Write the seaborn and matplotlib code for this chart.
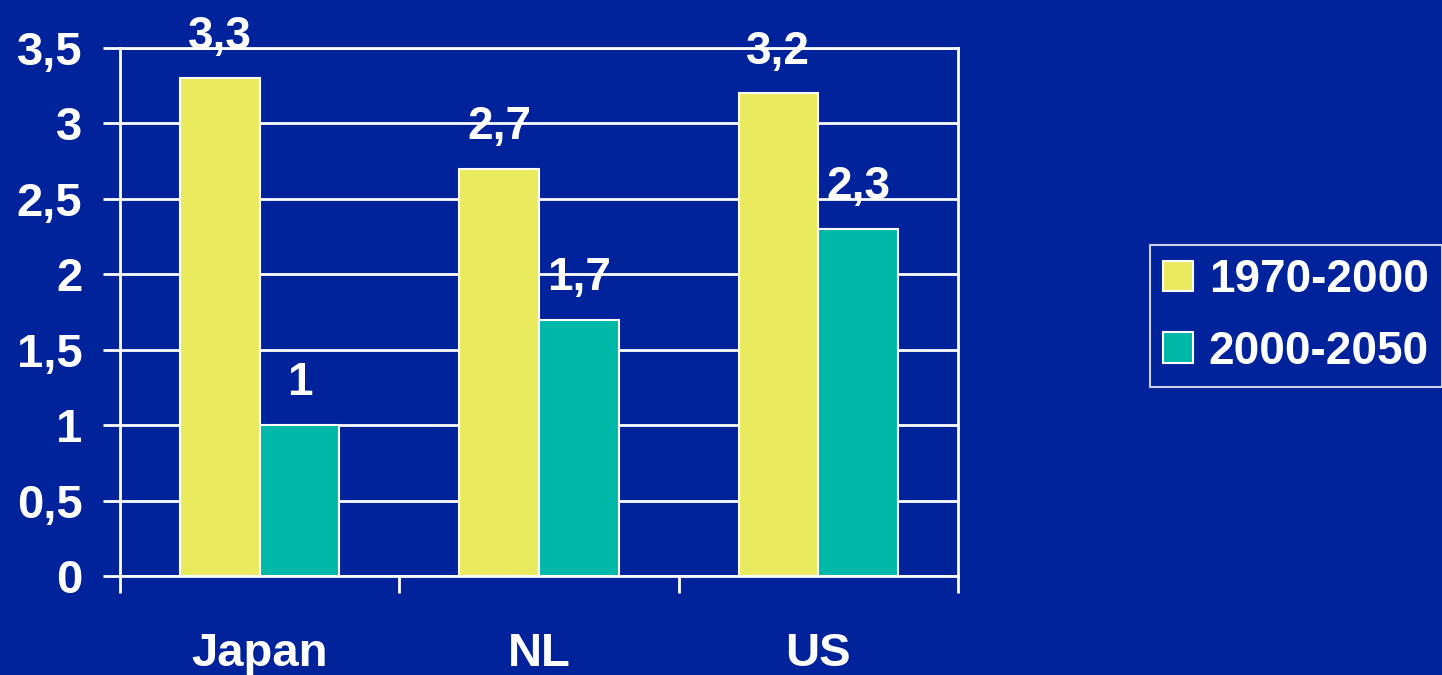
import matplotlib
matplotlib.use("Agg")
import matplotlib.pyplot as plt
import seaborn as sns
import pandas as pd
from matplotlib.ticker import FuncFormatter, FixedLocator, MultipleLocator

countries = ["Japan", "NL", "US"]
periods = ["1970-2000", "2000-2050"]
values_1970_2000 = [3.3, 2.7, 3.2]
values_2000_2050 = [1.0, 1.7, 2.3]

BG = "#00229A"
YELLOW = "#EAEA5E"
TEAL = "#00B8A8"

rows = []
for c, v1, v2 in zip(countries, values_1970_2000, values_2000_2050):
    rows.append({"country": c, "period": periods[0], "value": v1})
    rows.append({"country": c, "period": periods[1], "value": v2})
df = pd.DataFrame(rows)

sns.set_theme(style="white")
plt.rcParams["font.family"] = ["Liberation Sans", "DejaVu Sans"]
plt.rcParams["font.weight"] = "bold"

fig = plt.figure(figsize=(14.42, 6.75), dpi=100, facecolor=BG)
ax = fig.add_axes([120/1442, 1-576/675, (958-120)/1442, (576-48)/675])
ax.set_facecolor(BG)

sns.barplot(data=df, x="country", y="value", hue="period", order=countries,
            hue_order=periods, palette=[YELLOW, TEAL], saturation=1, width=0.571,
            edgecolor="white", linewidth=1.5, ax=ax, legend=True, zorder=3)

ax.set_ylim(0, 3.5)
ax.set_xlim(-0.5, 2.5)
ax.yaxis.set_major_locator(MultipleLocator(0.5))
ax.yaxis.set_major_formatter(FuncFormatter(lambda v, p: f"{v:g}".replace(".", ",")))
ax.grid(axis="y", color="white", linewidth=2, zorder=0)
ax.set_axisbelow(True)
for s in ax.spines.values():
    s.set_color("white")
    s.set_linewidth(2)

ax.tick_params(axis="y", colors="white", labelcolor="white", labelsize=34,
               length=12, width=2, direction="out", left=True, pad=15)
ax.tick_params(axis="x", which="major", length=0, labelsize=34, labelcolor="white", pad=40)
ax.xaxis.set_minor_locator(FixedLocator([-0.5, 0.5, 1.5, 2.5]))
ax.tick_params(axis="x", which="minor", bottom=True, length=12, width=2,
               color="white", direction="out")
for lbl in ax.get_xticklabels() + ax.get_yticklabels():
    lbl.set_fontweight("bold")
ax.set_xlabel("")
ax.set_ylabel("")

for cont in ax.containers:
    for bar in cont:
        h = bar.get_height()
        ax.annotate(f"{h:g}".replace(".", ","),
                    (bar.get_x() + bar.get_width()/2, h),
                    xytext=(0, 30), textcoords="offset points",
                    ha="center", va="center", fontsize=33,
                    fontweight="bold", color="white", annotation_clip=False)

handles, labels = ax.get_legend_handles_labels()
ax.get_legend().remove()
leg = fig.legend(handles, labels, loc="center left",
                 bbox_to_anchor=(1150/1442, 1-316/675),
                 bbox_transform=fig.transFigure, frameon=True,
                 prop={"weight": "bold", "size": 33},
                 handlelength=0.65, handleheight=0.65, handletextpad=0.35,
                 labelspacing=0.6, borderpad=0.28, borderaxespad=0,
                 fancybox=False)
leg.get_frame().set_facecolor(BG)
leg.get_frame().set_edgecolor("white")
leg.get_frame().set_linewidth(1.5)
for t in leg.get_texts():
    t.set_color("white")
for h in leg.legend_handles:
    h.set_edgecolor("white")

fig.savefig("out.png", dpi=100, facecolor=BG)
